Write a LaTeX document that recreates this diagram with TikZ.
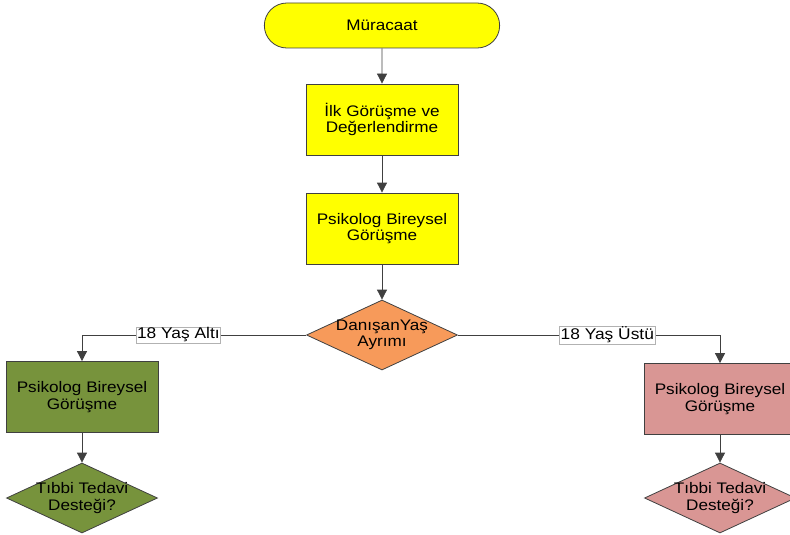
\documentclass[tikz,border=0pt]{standalone}
\usepackage{fontspec}
\setmainfont{Liberation Sans}[FakeStretch=1.12]
\usetikzlibrary{shapes.geometric,shapes.misc,arrows.meta}
\definecolor{yel}{HTML}{FFFF00}
\definecolor{ora}{HTML}{F79A5A}
\definecolor{grn}{HTML}{77933C}
\definecolor{pnk}{HTML}{D99694}
\definecolor{edge}{HTML}{404040}
\tikzset{
  x=1pt, y=-1pt,
  every node/.style={font=\fontsize{15.3}{16.5}\selectfont, align=center},
  procbox/.style={draw=edge, line width=0.8pt, minimum width=152pt, minimum height=71pt, inner sep=0pt},
  term/.style={draw=edge, line width=0.8pt, rounded rectangle, minimum width=242pt, minimum height=45pt},
  decision/.style={draw=edge, line width=0.8pt, diamond, aspect=2.17, minimum width=151pt, minimum height=70pt, inner sep=-2.5pt},
  conn/.style={draw=edge, line width=0.8pt, -{Triangle[length=10pt,width=10pt]}},
  lab/.style={fill=white, draw=gray!60, line width=0.4pt, inner sep=1pt, font=\fontsize{15.5}{16}\selectfont}
}
\begin{document}
\begin{tikzpicture}
\useasboundingbox (0,0) rectangle (790,535);
\clip (0,0) rectangle (790,535);
\node[term, fill=yel] (start) at (382,25.5) {Müracaat};
\node[procbox, fill=yel] (ilk) at (382,119.5) {İlk Görüşme ve\\Değerlendirme};
\node[procbox, fill=yel] (psi) at (382,228.5) {Psikolog Bireysel\\Görüşme};
\node[decision, fill=ora] (yas) at (382,335) {DanışanYaş\\Ayrımı};
\node[procbox, fill=grn] (lbox) at (82,397) {Psikolog Bireysel\\Görüşme};
\node[decision, fill=grn] (ldia) at (82,498) {Tıbbi Tedavi\\Desteği?};
\node[procbox, fill=pnk] (rbox) at (720,399) {Psikolog Bireysel\\Görüşme};
\node[decision, fill=pnk] (rdia) at (720,498) {Tıbbi Tedavi\\Desteği?};
\draw[conn] (start) -- (ilk);
\draw[conn] (ilk) -- (psi);
\draw[conn] (psi) -- (yas);
\draw[conn] (yas.west) -| node[lab, pos=0.285] {18 Yaş Altı} (lbox.north);
\draw[conn] (yas.east) -| node[lab, pos=0.285] {18 Yaş Üstü} (rbox.north);
\draw[conn] (lbox) -- (ldia);
\draw[conn] (rbox) -- (rdia);
\end{tikzpicture}
\end{document}
